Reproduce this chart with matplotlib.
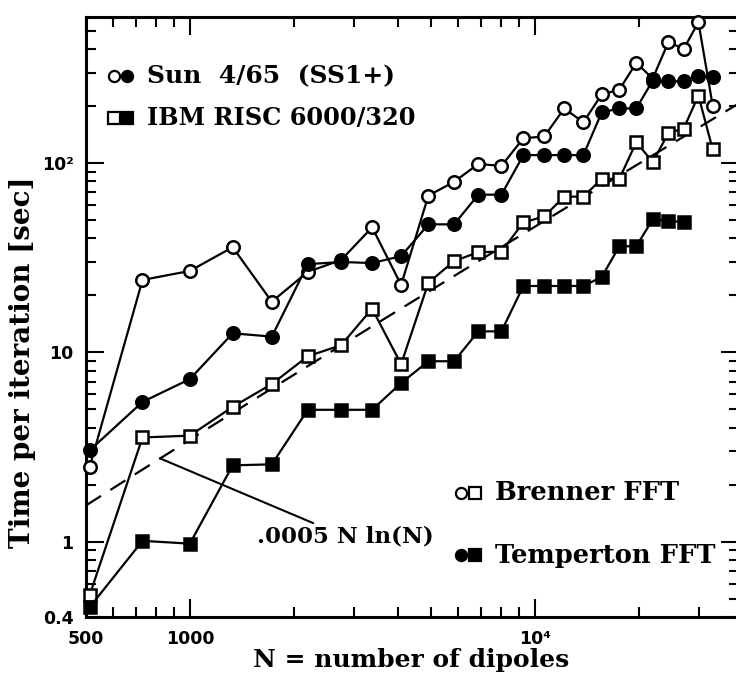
import numpy as np
import matplotlib
matplotlib.use("Agg")
import matplotlib.pyplot as plt
from matplotlib.ticker import FixedLocator, NullFormatter

# N = n^3 dipoles, n = 8 .. 32
n_side = np.arange(8, 33)
N = n_side ** 3

sun_brenner = [2.47, 24.1, 26.9, 35.9, 18.5, 26.6, 30.7, 45.7, 22.7, 67.2,
               79.5, 98.8, 96.5, 135, 138, 194, 164, 230, 244, 338,
               279, 435, 400, 554, 201]
sun_temperton = [3.03, 5.47, 7.22, 12.6, 12.1, 29.2, 30.0, 29.6, 32.2, 47.4,
                 47.4, 68, 68, 110, 110, 110, 110, 185, 194, 194,
                 272, 270, 270, 289, 285]
ibm_brenner = [0.52, 3.55, 3.63, 5.15, 6.80, 9.53, 10.9, 17.0, 8.65, 23.3,
               30.3, 33.8, 34.0, 48.5, 52.2, 66.4, 66.4, 82.4, 82.4, 129,
               101, 144, 152, 227, 118]
# Temperton on the IBM stops at n = 30
ibm_temperton = [0.45, 1.01, 0.976, 2.53, 2.56, 4.97, 4.97, 4.97, 6.88, 8.97,
                 8.97, 12.9, 12.9, 22.4, 22.4, 22.4, 22.4, 25.0, 36.3, 36.3,
                 50.3, 49.4, 48.8]

x_major = [500, 1000, 10000]
x_labels = ["500", "1000", "10⁴"]
y_major = [0.4, 1, 10, 100]
y_labels = ["0.4", "1", "10", "10²"]

# right spine sits just past the image edge, only its ticks show
R = 739
fig = plt.figure(figsize=(7.36, 6.85), dpi=100)
ax = fig.add_axes([86 / 736, 1 - 617 / 685, (R - 86) / 736, (617 - 17) / 685])

serif = dict(family="DejaVu Serif", weight="bold")

line_kw = dict(color="black", lw=1.6, ms=9, mew=1.8, clip_on=False, zorder=3)
ax.plot(N, sun_brenner, marker="o", mfc="white", mec="black", **line_kw)
ax.plot(N, sun_temperton, marker="o", mfc="black", mec="black", **line_kw)
ax.plot(N, ibm_brenner, marker="s", mfc="white", mec="black", **line_kw)
ax.plot(N[:len(ibm_temperton)], ibm_temperton, marker="s", mfc="black",
        mec="black", **line_kw)

# fit line
nn = np.geomspace(500, 40000, 200)
ax.plot(nn, 0.0005 * nn * np.log(nn), color="black", lw=1.6,
        dashes=(8, 5), zorder=2)

ax.annotate(".0005 N ln(N)", xy=(820, 0.0005 * 820 * np.log(820)),
            xytext=(1570, 1.06), ha="left", va="center", fontsize=16.5,
            arrowprops=dict(arrowstyle="-", lw=1.5, color="black",
                            shrinkA=0, shrinkB=0), **serif)

ax.set_xscale("log")
ax.set_yscale("log")
ax.set_xlim(500, 500 * 10 ** ((R - 86) / 345))
ax.set_ylim(0.4, 590)

ax.xaxis.set_major_locator(FixedLocator(x_major))
ax.set_xticklabels(x_labels)
ax.xaxis.set_minor_locator(FixedLocator(
    [600, 700, 800, 900] + list(range(2000, 10000, 1000)) + [20000, 30000]))
ax.xaxis.set_minor_formatter(NullFormatter())
ax.yaxis.set_major_locator(FixedLocator(y_major))
ax.set_yticklabels(y_labels)
ax.yaxis.set_minor_locator(FixedLocator(
    [0.5, 0.6, 0.7, 0.8, 0.9] + list(range(2, 10)) + list(range(20, 100, 10))
    + [200, 300, 400, 500]))
ax.yaxis.set_minor_formatter(NullFormatter())

ax.tick_params(which="both", direction="in", top=True, right=True,
               width=1.5, labelsize=12.5)
ax.tick_params(which="major", length=13, pad=9)
ax.tick_params(which="minor", length=7)
for lab in ax.get_xticklabels() + ax.get_yticklabels():
    lab.set_fontfamily("DejaVu Sans")
    lab.set_fontweight("bold")
for sp in ax.spines.values():
    sp.set_linewidth(2.2)

ax.set_xlabel("N = number of dipoles", fontsize=18, **serif)
ax.set_ylabel("Time per iteration [sec]", fontsize=20, **serif)
ax.xaxis.set_label_coords(0.5 * (736 - 86) / (R - 86), -(648 - 617) / 600)
ax.yaxis.set_label_coords(-(86 - 36) / (R - 86), (617 - 362) / 600)


def frac(px, py):
    return (px - 86) / (R - 86), (617 - py) / 600


# legend entries drawn by hand
leg_kw = dict(transform=ax.transAxes, clip_on=False, ls="none", ms=8,
              mew=1.6, color="black")
rows = [
    ((114, 76), "o", "white", (127, 76), "o", "black", "Sun  4/65  (SS1+)", 18),
    ((114, 118), "s", "white", (127, 118), "s", "black", "IBM RISC 6000/320", 17.3),
    ((461, 493), "o", "white", (475, 493), "s", "white", "Brenner FFT", 18.5),
    ((461, 555), "o", "black", (475, 555), "s", "black", "Temperton FFT", 18.5),
]
for p1, m1, f1, p2, m2, f2, txt, fs in rows:
    x1, y1 = frac(*p1)
    x2, y2 = frac(*p2)
    ax.plot([x1], [y1], marker=m1, mfc=f1, **leg_kw)
    ax.plot([x2], [y2], marker=m2, mfc=f2, **leg_kw)
    tx, ty = frac(p2[0] + 20, p2[1])
    ax.text(tx, ty, txt, transform=ax.transAxes, ha="left", va="center",
            fontsize=fs, **serif)

fig.savefig("out.png", dpi=100)
